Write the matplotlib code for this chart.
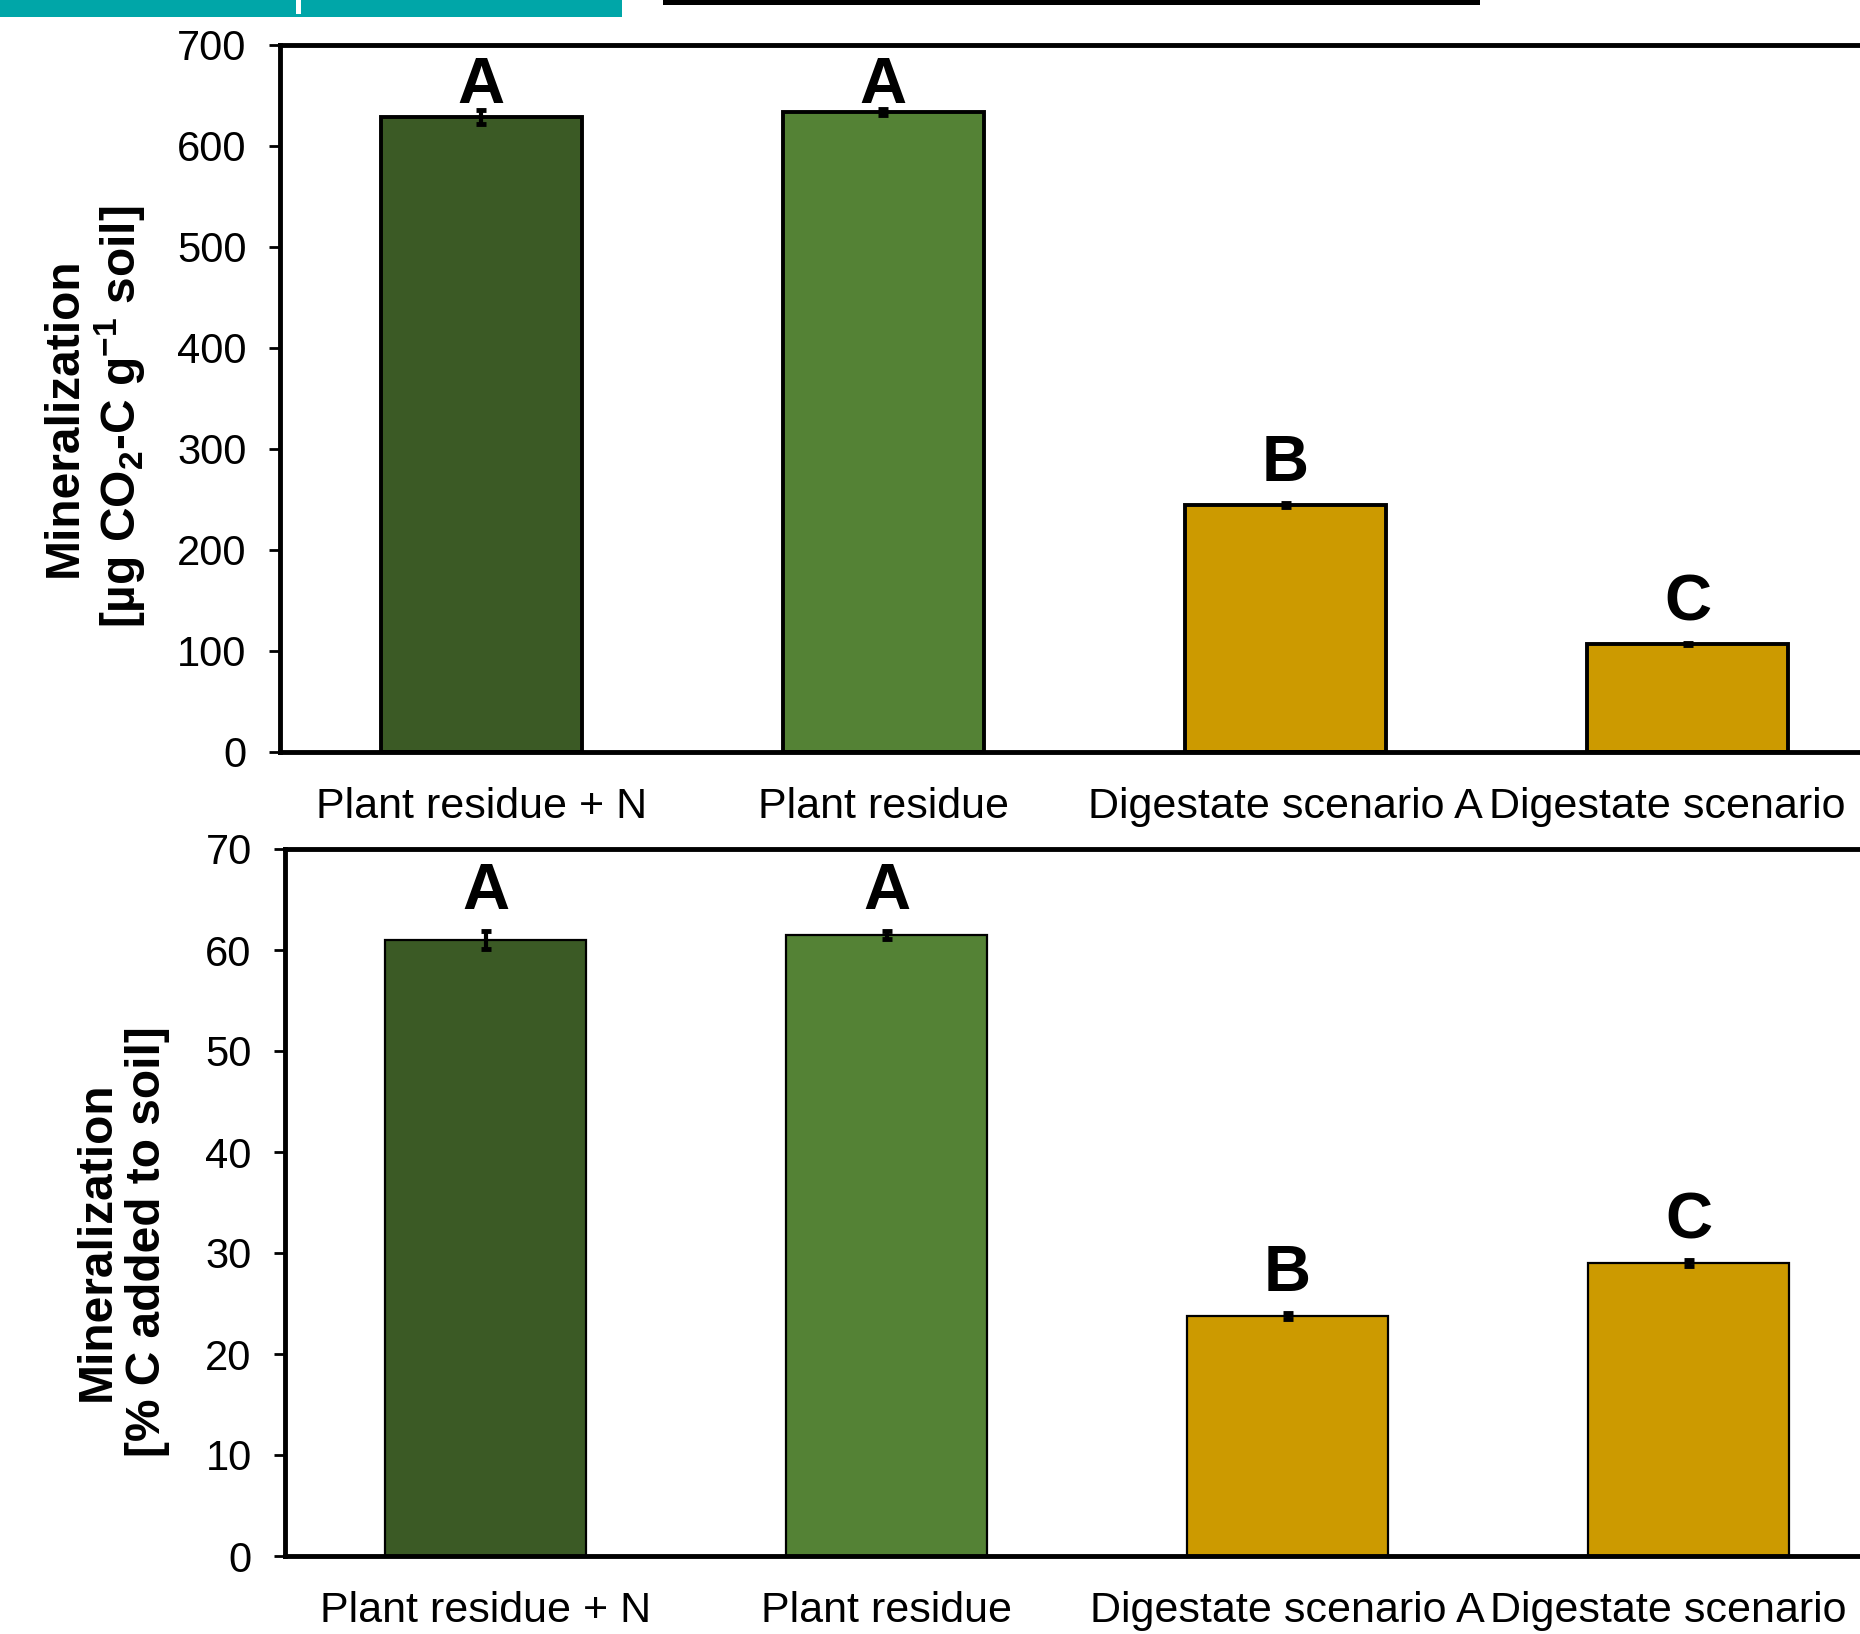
import matplotlib
matplotlib.use("Agg")
import matplotlib.pyplot as plt
from matplotlib.patches import Rectangle

plt.rcParams['font.family'] = ['Liberation Sans', 'DejaVu Sans']
plt.rcParams['mathtext.fontset'] = 'custom'
plt.rcParams['mathtext.rm'] = 'Liberation Sans:bold'
plt.rcParams['mathtext.it'] = 'Liberation Sans:bold'
plt.rcParams['mathtext.default'] = 'rm'

# ---- data ----
categories = ["Plant residue + N", "Plant residue", "Digestate scenario A", "Digestate scenario B"]
bar_colors = ["#3b5a25", "#548235", "#cc9a00", "#cc9a00"]

co2_values = [629, 634, 245, 107]
co2_errors = [7, 3, 2, 1]
co2_letters = ["A", "A", "B", "C"]

pct_values = [61.0, 61.5, 23.8, 29.0]
pct_errors = [0.9, 0.4, 0.3, 0.3]
pct_letters = ["A", "A", "B", "C"]

W, H = 1860, 1634
DPI = 100
fig = plt.figure(figsize=(W / DPI, H / DPI), dpi=DPI)

# banner remnants at the very top (cropped slide)
fig.patches.append(Rectangle((0, 1 - 17 / H), 622 / W, 17 / H, transform=fig.transFigure,
                             facecolor="#00a6a8", edgecolor="none"))
fig.patches.append(Rectangle((296 / W, 1 - 14 / H), 5 / W, 14 / H, transform=fig.transFigure,
                             facecolor="white", edgecolor="none"))
fig.patches.append(Rectangle((663 / W, 1 - 5 / H), (1480 - 663) / W, 5 / H, transform=fig.transFigure,
                             facecolor="black", edgecolor="none"))

LETTER_SIZE = 47
CAP_PX = 0.716 * LETTER_SIZE * DPI / 72


def draw_panel(rect, values, errors, letters, ymax, ystep, ylabel, label_xy, edge_lw):
    ax = fig.add_axes(rect)
    x = range(len(categories))
    ax.bar(x, values, width=0.5, color=bar_colors, edgecolor="black", linewidth=edge_lw, zorder=2)
    ax.errorbar(x, values, yerr=errors, fmt="none", ecolor="black", elinewidth=3,
                capsize=3.5, capthick=3.5, zorder=3)
    ax.set_xlim(-0.5, 3.5)
    ax.set_ylim(0, ymax)
    # letters sit ~22 px above the error bar, but stay inside the plot area
    top_px = ax.transAxes.transform((0, 1))[1]
    for xi, v, e, lab in zip(x, values, errors, letters):
        base_px = ax.transData.transform((xi, v + e))[1]
        gap = 22
        if base_px + gap + CAP_PX > top_px - 11:
            gap = max(4, top_px - 11 - CAP_PX - base_px)
        ax.annotate(lab, (xi, v + e), xytext=(0, gap * 72 / DPI), textcoords="offset points",
                    ha="center", va="baseline", fontsize=LETTER_SIZE, fontweight="bold")
    ax.set_yticks(range(0, ymax + 1, ystep))
    ax.set_xticks(list(x))
    ax.set_xticklabels(categories)
    ax.tick_params(axis="y", direction="out", length=8, width=2, labelsize=30, pad=16)
    ax.tick_params(axis="x", length=0, labelsize=31, pad=25)
    for s in ax.spines.values():
        s.set_linewidth(3.5)
    ax.set_ylabel(ylabel, fontsize=34.5, fontweight="bold", linespacing=1.15, multialignment="center")
    ax.yaxis.set_label_coords(*label_xy)
    return ax


draw_panel([280 / W, 1 - 752 / H, 1609 / W, 707 / H], co2_values, co2_errors, co2_letters,
           700, 100, "Mineralization\n[µg CO$_2$-C g$^{-1}$ soil]", (-0.082, 0.474), 2.8)

draw_panel([285 / W, 1 - 1556 / H, 1604 / W, 707 / H], pct_values, pct_errors, pct_letters,
           70, 10, "Mineralization\n[% C added to soil]", (-0.072, 0.445), 1.6)

fig.savefig("out.png", dpi=DPI)
